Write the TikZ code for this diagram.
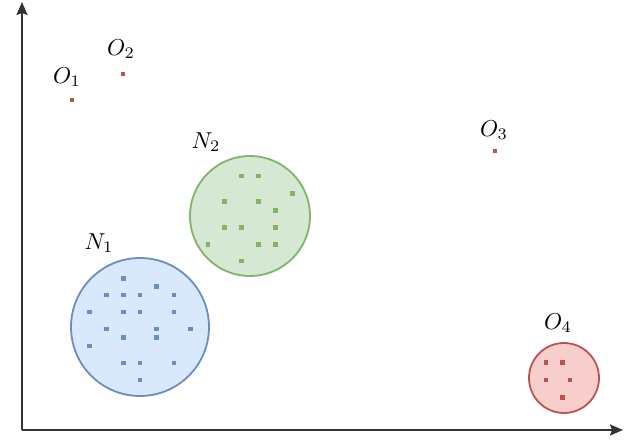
\documentclass[tikz,border=0pt]{standalone}
\usetikzlibrary{arrows.meta}
\definecolor{bfill}{HTML}{DAE8FC}
\definecolor{bline}{HTML}{6C8EBF}
\definecolor{gfill}{HTML}{D5E8D4}
\definecolor{gline}{HTML}{82B366}
\definecolor{rfill}{HTML}{F8CECC}
\definecolor{rline}{HTML}{B85450}
\definecolor{axcol}{HTML}{333333}
\newcommand{\biglbl}[1]{\scalebox{2.3}{$#1$}}
\tikzset{
  cluster/.style={circle, inner sep=0pt, line width=1.8pt},
  sq/.style={rectangle, inner sep=0pt, minimum size=4.8pt, draw=none},
  bdot/.style={sq, fill=bline},
  gdot/.style={sq, fill=gline},
  rdot/.style={sq, fill=rline},
  lbl/.style={inner sep=0pt},
  axis/.style={line width=2pt, draw=axcol, -{Stealth[length=13pt, width=11pt, inset=2pt]}}
}
\begin{document}
\begin{tikzpicture}[x=1pt, y=-1pt]
\useasboundingbox (0,0) rectangle (625,443);
% axes
\coordinate (orig) at (22,430);
\coordinate (ytop) at (22,2);
\coordinate (xend) at (623,430);
\draw[axis] (orig) -- (ytop);
\draw[axis] (orig) -- (xend);

% clusters
\node[cluster, draw=bline, fill=bfill, minimum size=138pt] (c1) at (140,327) {};
\node[cluster, draw=gline, fill=gfill, minimum size=120pt] (c2) at (250,216) {};
\node[cluster, draw=rline, fill=rfill, minimum size=70pt] (c4) at (564,378) {};

% blue dots
\foreach \x/\y [count=\i] in {123.3/278.3, 156.7/286.7, 106.7/295, 123.3/295, 140/295, 174/295,
  89.3/312, 123.3/312, 140/312, 174/312, 106.7/329, 156.7/329, 190.7/329,
  123.3/337.7, 156.7/337.7, 89.3/346, 123.3/363, 140/363, 174/363, 140/380}
  \node[bdot] (b\i) at (\x,\y) {};

% green dots
\foreach \x/\y [count=\i] in {241.7/176, 258.7/176, 292.7/193.3, 224.7/201.7, 258.7/201.7,
  275.7/210.7, 224.7/227.3, 241.7/227.3, 275.7/227.3, 208/244.3, 258.7/244.3,
  275.7/244.3, 241.7/261}
  \node[gdot] (g\i) at (\x,\y) {};

% red dots
\foreach \x/\y [count=\i] in {546/362.7, 562.7/362.7, 546/380, 570/380, 562.7/397.3}
  \node[rdot] (r\i) at (\x,\y) {};

% outliers
\node[rdot, minimum size=4.4pt] (o1) at (72,100) {};
\node[rdot, minimum size=4.4pt] (o2) at (123,74) {};
\node[rdot, minimum size=4.4pt] (o3) at (495,151) {};

% labels
\node[lbl] (l1) at (67,77) {\biglbl{O_1}};
\node[lbl] (l2) at (121,49) {\biglbl{O_2}};
\node[lbl] (l3) at (494,130) {\biglbl{O_3}};
\node[lbl] (l4) at (558,323) {\biglbl{O_4}};
\node[lbl] (ln1) at (99,243) {\biglbl{N_1}};
\node[lbl] (ln2) at (206,142) {\biglbl{N_2}};
\end{tikzpicture}
\end{document}
